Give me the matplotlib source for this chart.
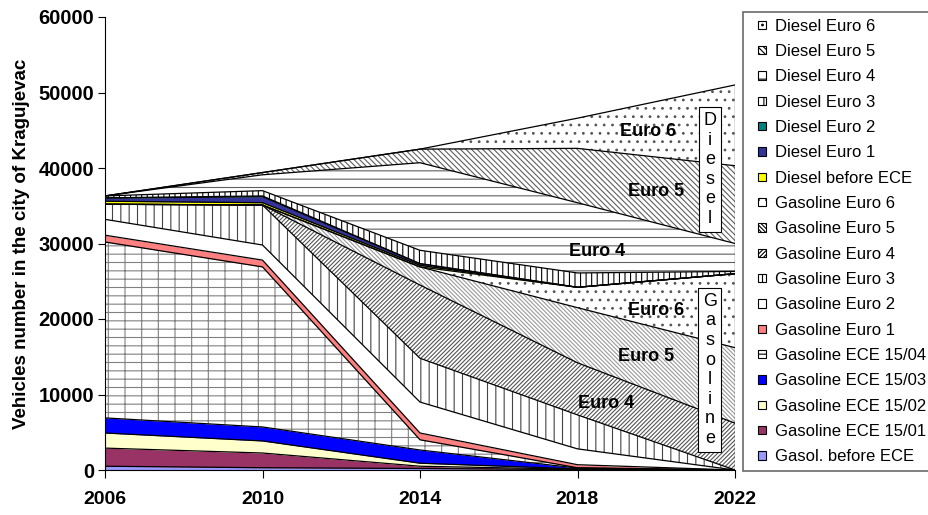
import matplotlib
matplotlib.use("Agg")
import matplotlib.pyplot as plt
from matplotlib.patches import Patch, Rectangle
from matplotlib.legend_handler import HandlerPatch
import numpy as np

plt.rcParams['font.family'] = ['Liberation Sans', 'DejaVu Sans']
plt.rcParams['hatch.linewidth'] = 0.8

years = [2006, 2010, 2014, 2018, 2022]

# gasoline layers, bottom to top
gas_before_ece = [500, 300, 200, 50, 0]
gas_ece_1501 = [2400, 1950, 300, 50, 0]
gas_ece_1502 = [2000, 1600, 400, 50, 0]
gas_ece_1503 = [2000, 1850, 1750, 100, 0]
gas_ece_1504 = [23300, 21200, 1350, 50, 0]
gas_euro1 = [900, 900, 900, 400, 0]
gas_euro2 = [2100, 2000, 4100, 2100, 0]
gas_euro3 = [2000, 5300, 5800, 4500, 0]
gas_euro4 = [0, 0, 9700, 6900, 6200]
gas_euro5 = [0, 0, 2400, 7300, 10000]
gas_euro6 = [0, 0, 0, 2700, 9800]
# diesel layers, bottom to top
dsl_before_ece = [400, 300, 200, 0, 0]
dsl_euro1 = [400, 800, 200, 0, 0]
dsl_euro2 = [50, 100, 50, 0, 0]
dsl_euro3 = [250, 700, 1750, 1900, 300]
dsl_euro4 = [0, 2100, 11600, 9300, 3700]
dsl_euro5 = [0, 300, 1800, 7200, 10300]
dsl_euro6 = [0, 0, 0, 4000, 10700]

labels = ['Gasol. before ECE', 'Gasoline ECE 15/01', 'Gasoline ECE 15/02',
          'Gasoline ECE 15/03', 'Gasoline ECE 15/04', 'Gasoline Euro 1',
          'Gasoline Euro 2', 'Gasoline Euro 3', 'Gasoline Euro 4',
          'Gasoline Euro 5', 'Gasoline Euro 6', 'Diesel before ECE',
          'Diesel Euro 1', 'Diesel Euro 2', 'Diesel Euro 3', 'Diesel Euro 4',
          'Diesel Euro 5', 'Diesel Euro 6']
series = [gas_before_ece, gas_ece_1501, gas_ece_1502, gas_ece_1503, gas_ece_1504,
          gas_euro1, gas_euro2, gas_euro3, gas_euro4, gas_euro5, gas_euro6,
          dsl_before_ece, dsl_euro1, dsl_euro2, dsl_euro3, dsl_euro4,
          dsl_euro5, dsl_euro6]
colors = ['#9999ff', '#993366', '#ffffcc', '#0000ff', 'white', '#ff8080',
          'white', 'white', 'white', 'white', 'white', '#ffff00',
          '#333399', '#008080', 'white', 'white', 'white', 'white']
hatches = [None, None, None, None, '--|', None,
           None, '||', '////////', '\\\\\\\\\\\\\\\\', '..', None,
           None, None, '|||', '--', '\\\\\\\\\\\\', '..']
hatch_colors = ['k', 'k', 'k', 'k', '#808080', 'k',
                'k', '#444444', '#555555', '#9a9a9a', '#555555', 'k',
                'k', 'k', 'black', '#606060', '#606060', '#555555']

fig = plt.figure(figsize=(9.29, 5.15), dpi=100)
ax = fig.add_axes([105 / 929, 1 - 470 / 515, 630 / 929, 453 / 515])

polys = ax.stackplot(years, *series, colors=colors, linewidth=0)
for p, h, hc in zip(polys, hatches, hatch_colors):
    p.set_edgecolor(hc)
    p.set_linewidth(0)
    if h:
        p.set_hatch(h)

# black boundary lines between layers
cum = np.cumsum(np.array(series), axis=0)
for row in cum:
    ax.plot(years, row, color='black', lw=0.9)
ax.vlines(years[-1], 0, cum[-1][-1], color='black', lw=0.9)

ax.set_xlim(2006, 2022)
ax.set_ylim(0, 60000)
ax.set_xticks(years)
ax.set_yticks(range(0, 60001, 10000))
ax.spines['top'].set_visible(False)
ax.spines['right'].set_visible(False)
ax.tick_params(axis='x', length=6, pad=9, labelsize=14)
ax.tick_params(axis='y', length=5, pad=3, labelsize=14.5)
for t in ax.get_xticklabels() + ax.get_yticklabels():
    t.set_fontweight('bold')
ax.set_ylabel('Vehicles number in the city of Kragujevac', fontsize=13.5,
              fontweight='bold', labelpad=6)

# region labels
txt = dict(fontsize=13, fontweight='bold', ha='center', va='center')
ax.text(2019.8, 44900, 'Euro 6', **txt)
ax.text(2020.0, 36950, 'Euro 5', **txt)
ax.text(2018.5, 29000, 'Euro 4', **txt)
ax.text(2020.0, 21060, 'Euro 6', **txt)
ax.text(2019.74, 14970, 'Euro 5', **txt)
ax.text(2018.72, 8870, 'Euro 4', **txt)

box = dict(boxstyle='square,pad=0.25', fc='white', ec='black', lw=0.8)
ax.text(2021.36, 39800, '\n'.join('Diesel'), fontsize=13, ha='center',
        va='center', linespacing=1.2, bbox=box)
ax.text(2021.36, 13250, '\n'.join('Gasoline'), fontsize=13, ha='center',
        va='center', linespacing=1.2, bbox=box)


def small_square(legend, orig_handle, xdescent, ydescent, width, height, fontsize):
    s = 6.0
    return Rectangle((-xdescent + width - s, -ydescent + (height - s) / 2), s, s)


handles = [Patch(facecolor=c, edgecolor='black', hatch=h, linewidth=0.8)
           for c, h in zip(colors, hatches)]
leg = fig.legend(handles[::-1], labels[::-1], loc='upper left',
                 bbox_to_anchor=(743 / 929, 1 - 12 / 515), fontsize=12,
                 frameon=True, fancybox=False, handlelength=1.0,
                 handleheight=0.7, handletextpad=0.55, labelspacing=0.62,
                 borderpad=0.4, borderaxespad=0,
                 handler_map={Patch: HandlerPatch(patch_func=small_square)})
leg.get_frame().set_edgecolor('#444444')
leg.get_frame().set_linewidth(1.2)

fig.savefig('out.png', dpi=100)
